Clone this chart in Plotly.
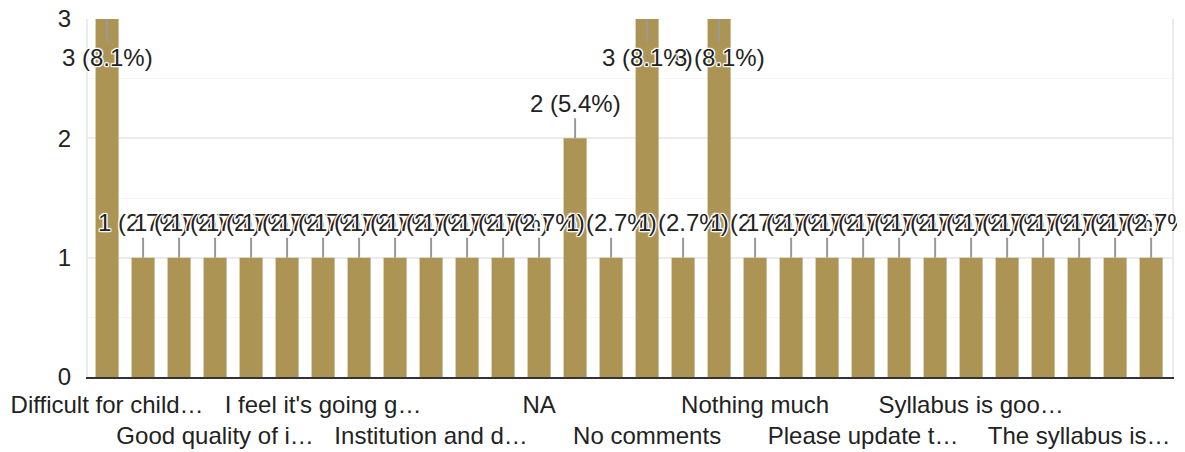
import plotly.graph_objects as go

# Data
values = [3, 1, 1, 1, 1, 1, 1, 1, 1, 1, 1, 1, 1, 2, 1, 3, 1, 3,
          1, 1, 1, 1, 1, 1, 1, 1, 1, 1, 1, 1]
total = 37
tick_positions = [0, 3, 6, 9, 12, 15, 18, 21, 24, 27]
tick_labels = ["Difficult for child…", "Good quality of i…", "I feel it's going g…",
               "Institution and d…", "NA", "No comments", "Nothing much",
               "Please update t…", "Syllabus is goo…", "The syllabus is…"]

FONT = "Arial, 'Liberation Sans', sans-serif"
BAR = "#ab9454"
TXT = "#222222"
FS = 24

x = list(range(len(values)))
fig = go.Figure(go.Bar(x=x, y=values, marker_color=BAR, marker_line_width=0,
                       hoverinfo="skip"))

ticktext = [("" if k % 2 == 0 else "<br>") + t for k, t in enumerate(tick_labels)]

halo = ("white 1px 1px 1px, white -1px -1px 1px, white 1px -1px 1px, "
        "white -1px 1px 1px, white 0px 1px 1px, white 0px -1px 1px, "
        "white 1px 0px 1px, white -1px 0px 1px")
anns = []
vmax = max(values)
for i, v in enumerate(values):
    anns.append(dict(
        x=i, y=v, xref="x", yref="y",
        text=f"{v} ({v / total * 100:.1f}%)",
        showarrow=True, arrowhead=0, arrowwidth=2, arrowcolor="#999999",
        ax=0, ay=(38 if v == vmax else -35),
        font=dict(family=FONT, size=FS, color=TXT, shadow=halo),
    ))

# the page body adds an 8px margin, so the figure is sized to fit the window
fig.update_layout(
    width=1177, height=444,
    margin=dict(l=80, r=13, t=11, b=75, autoexpand=False),
    paper_bgcolor="white", plot_bgcolor="white",
    bargap=0.36, showlegend=False,
    font=dict(family=FONT, size=FS, color=TXT),
    annotations=anns,
    xaxis=dict(range=[-0.53, 29.58], tickmode="array", tickvals=tick_positions,
               ticktext=ticktext, showgrid=False, zeroline=False, automargin=False,
               showline=True, linecolor="#333333", linewidth=2, ticks="",
               tickangle=0, ticklabelstandoff=5, tickfont=dict(size=FS, color=TXT)),
    yaxis=dict(range=[0, 3], tickvals=[0, 1, 2, 3], showgrid=True, automargin=False,
               gridcolor="#ebebeb", gridwidth=2, zeroline=False,
               showline=True, linecolor="#ebebeb", linewidth=2, mirror=True,
               ticks="", ticklabelstandoff=10, ticklabeloverflow="allow",
               minor=dict(dtick=0.5, showgrid=True, gridcolor="#f5f5f5", gridwidth=1),
               tickfont=dict(size=FS, color=TXT)),
)

fig.write_html("out.html")
